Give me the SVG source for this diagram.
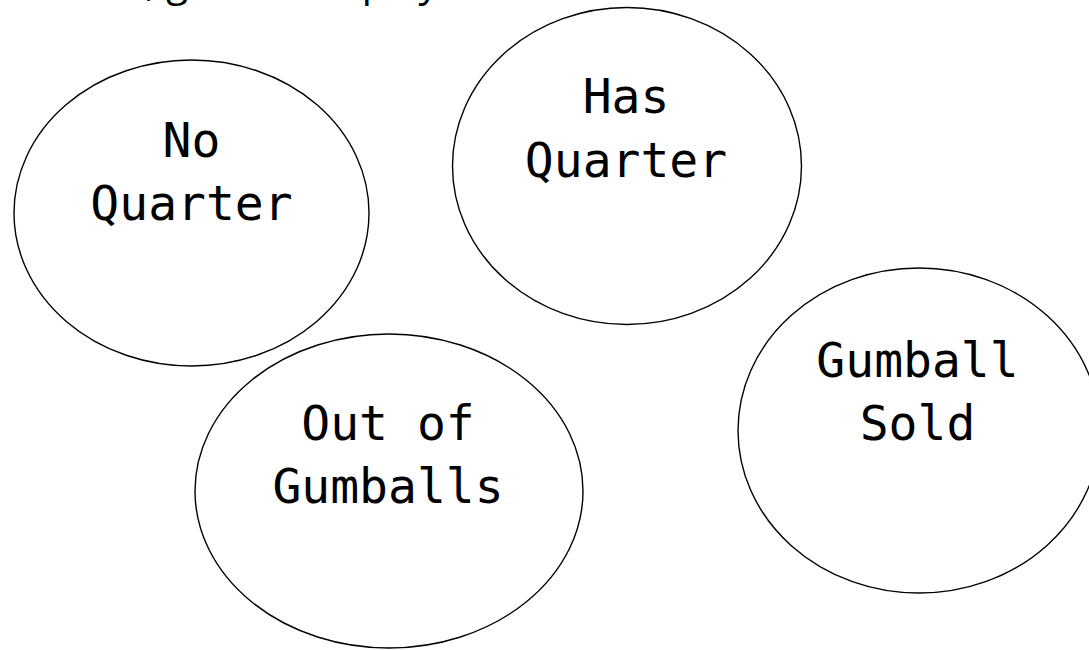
<svg xmlns="http://www.w3.org/2000/svg" width="1089" height="650" viewBox="0 0 1089 650">
<style>
.state{fill:#fff;stroke:#000;stroke-width:1.4}
.lbl{font-family:"DejaVu Sans Mono",monospace;font-size:48px;fill:#000;text-anchor:middle}
.cap{font-family:"Open Sans","Noto Sans",sans-serif;font-size:40px;fill:#000}
</style>
<rect width="1089" height="650" fill="#fff"/>
<text class="cap" x="52" y="-4">Then, given a display</text>
<g id="connectors"></g>
<g id="no-quarter">
<ellipse class="state" cx="191.5" cy="213" rx="177.5" ry="153"/>
<text class="lbl"><tspan x="191.5" y="157">No</tspan><tspan x="191.5" y="220">Quarter</tspan></text>
</g>
<g id="has-quarter">
<ellipse class="state" cx="627" cy="166" rx="174.5" ry="158.5"/>
<text class="lbl"><tspan x="626" y="113">Has</tspan><tspan x="626" y="177">Quarter</tspan></text>
</g>
<g id="out-of-gumballs">
<ellipse class="state" cx="389" cy="491" rx="194" ry="157"/>
<text class="lbl"><tspan x="388" y="440">Out of</tspan><tspan x="388" y="503">Gumballs</tspan></text>
</g>
<g id="gumball-sold">
<ellipse class="state" cx="919" cy="430.5" rx="181" ry="162.5"/>
<text class="lbl"><tspan x="917.5" y="377">Gumball</tspan><tspan x="917.5" y="440">Sold</tspan></text>
</g>
</svg>
